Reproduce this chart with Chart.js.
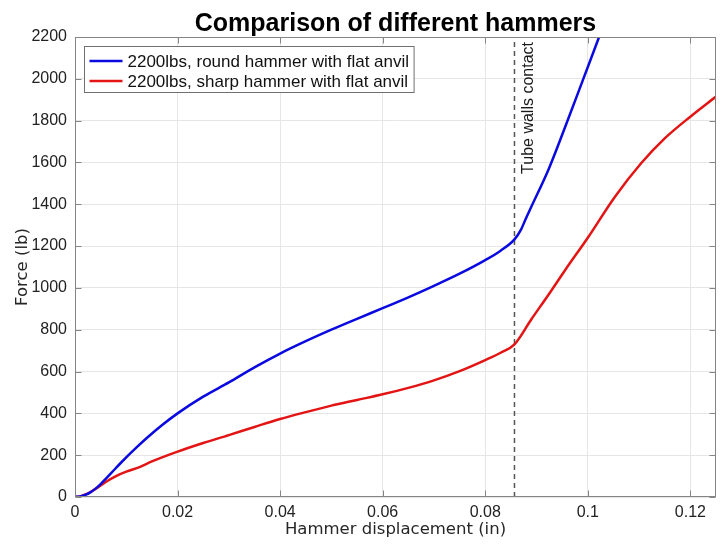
<!DOCTYPE html>
<html>
<head>
<meta charset="utf-8">
<script src="https://cdn.jsdelivr.net/npm/chart.js@4.4.1/dist/chart.umd.min.js"></script>
<style>
  html, body { margin: 0; padding: 0; background: #fff; }
  #wrap { width: 724px; height: 544px; }
</style>
</head>
<body>
<div id="wrap"><canvas id="hammerChart" width="724" height="544"></canvas></div>
<script>
// Values
const roundX = [0, 0.001, 0.002, 0.003, 0.004, 0.005, 0.007, 0.009, 0.012, 0.014, 0.017, 0.02, 0.025, 0.03, 0.035, 0.04, 0.045, 0.05, 0.055, 0.06, 0.065, 0.07, 0.075, 0.08, 0.083, 0.0857, 0.087, 0.0878, 0.089, 0.0923, 0.0956, 0.0988, 0.1022];
const roundF = [0, 3, 10, 22, 40, 62, 113, 165, 237, 282, 344, 400, 480, 548, 620, 686, 745, 800, 852, 903, 955, 1010, 1068, 1133, 1178, 1232, 1280, 1325, 1389, 1564, 1771, 1978, 2200];

const sharpX = [0, 0.001, 0.002, 0.003, 0.004, 0.006, 0.008, 0.01, 0.0126, 0.015, 0.02, 0.025, 0.03, 0.035, 0.04, 0.045, 0.05, 0.055, 0.06, 0.065, 0.07, 0.075, 0.08, 0.083, 0.0857, 0.089, 0.0923, 0.0956, 0.1, 0.1053, 0.1104, 0.115, 0.12, 0.125];
const sharpF = [0, 3, 12, 24, 38, 72, 100, 121, 143, 170, 217, 258, 296, 335, 373, 406, 437, 464, 491, 522, 558, 602, 655, 690, 730, 850, 966, 1086, 1240, 1436, 1596, 1715, 1819, 1915];

const contactX = 0.0857;
const contactF = [0, 2200];

const xTicks = [0, 0.02, 0.04, 0.06, 0.08, 0.1, 0.12];
const yTicks = [0, 200, 400, 600, 800, 1000, 1200, 1400, 1600, 1800, 2000, 2200];

const toPoints = (xs, ys) => xs.map((x, i) => ({ x: x, y: ys[i] }));

const sans = '"Liberation Sans", Arial, Helvetica, sans-serif';
const wide = '"DejaVu Sans", Verdana, sans-serif';
const axisGray = '#858585';

Chart.defaults.font.family = sans;
Chart.defaults.color = '#262626';

// box, inward ticks, rotated note and the framed legend
const matlabLook = {
  id: 'matlabLook',
  afterDraw(chart) {
    const { ctx, chartArea: a, scales: { x, y } } = chart;
    const L = Math.round(a.left) + 0.5, R = Math.round(a.right) - 0.5;
    const T = Math.round(a.top) + 0.5, B = Math.round(a.bottom) - 0.5;
    ctx.save();
    ctx.strokeStyle = axisGray;
    ctx.lineWidth = 1;
    ctx.beginPath();
    x.ticks.forEach(t => {
      const px = Math.round(x.getPixelForValue(t.value)) + 0.5;
      ctx.moveTo(px, B); ctx.lineTo(px, B - 6);
      ctx.moveTo(px, T); ctx.lineTo(px, T + 6);
    });
    y.ticks.forEach(t => {
      const py = Math.round(y.getPixelForValue(t.value)) + 0.5;
      ctx.moveTo(L, py); ctx.lineTo(L + 6, py);
      ctx.moveTo(R, py); ctx.lineTo(R - 6, py);
    });
    ctx.stroke();
    ctx.strokeRect(L, T, R - L, B - T);

    // note next to the contact line
    const cx = x.getPixelForValue(contactX);
    ctx.save();
    ctx.translate(cx + 19, a.top + 5);
    ctx.rotate(-Math.PI / 2);
    ctx.fillStyle = '#1a1a1a';
    ctx.font = '16px ' + sans;
    ctx.textAlign = 'right';
    ctx.textBaseline = 'alphabetic';
    ctx.fillText('Tube walls contact', 0, 0);
    ctx.restore();

    // legend in the upper left corner
    const items = chart.data.datasets.slice(0, 2);
    ctx.font = '17px ' + sans;
    const textW = Math.max(...items.map(d => ctx.measureText(d.label).width));
    const lx = Math.round(a.left) + 9.5, ly = Math.round(a.top) + 9.5;
    const w = 43 + textW + 5, h = 46;
    ctx.fillStyle = '#fff';
    ctx.fillRect(lx, ly, w, h);
    ctx.strokeStyle = '#707070';
    ctx.strokeRect(lx, ly, w, h);
    items.forEach((d, i) => {
      const cy = ly + 14.5 + i * 20;
      ctx.strokeStyle = d.borderColor;
      ctx.lineWidth = 2.5;
      ctx.beginPath();
      ctx.moveTo(lx + 5, cy); ctx.lineTo(lx + 38, cy);
      ctx.stroke();
      ctx.fillStyle = '#111';
      ctx.textBaseline = 'middle';
      ctx.textAlign = 'left';
      ctx.fillText(d.label, lx + 43, cy + 1);
    });
    ctx.restore();
  }
};

const ctx = document.getElementById('hammerChart').getContext('2d');
const hammerChart = new Chart(ctx, {
  type: 'line',
  data: {
    datasets: [{
      label: '2200lbs, round hammer with flat anvil',
      data: toPoints(roundX, roundF),
      borderColor: '#0a0ae0',
      backgroundColor: '#0a0ae0',
      borderWidth: 2.5,
      pointRadius: 0,
      cubicInterpolationMode: 'monotone'
    }, {
      label: '2200lbs, sharp hammer with flat anvil',
      data: toPoints(sharpX, sharpF),
      borderColor: '#e31414',
      backgroundColor: '#e31414',
      borderWidth: 2.5,
      pointRadius: 0,
      cubicInterpolationMode: 'monotone'
    }, {
      label: 'Tube walls contact',
      data: contactF.map(f => ({ x: contactX, y: f })),
      borderColor: '#555',
      borderWidth: 1.5,
      borderDash: [5, 4],
      pointRadius: 0
    }]
  },
  options: {
    responsive: false,
    animation: false,
    devicePixelRatio: 1,
    layout: { padding: { left: 0, right: 8, top: 0, bottom: 0 } },
    plugins: {
      legend: { display: false },
      tooltip: { enabled: false },
      title: {
        display: true,
        fullSize: false,
        text: 'Comparison of different hammers',
        color: '#000',
        font: { family: sans, size: 25, weight: 'bold', lineHeight: 1 },
        padding: { top: 12, bottom: 0 }
      }
    },
    scales: {
      x: {
        type: 'linear',
        min: 0,
        max: 0.125,
        afterBuildTicks: s => { s.ticks = xTicks.map(v => ({ value: v })); },
        afterFit: s => { s.height = 47; },
        grid: { color: '#e6e6e6', drawTicks: false },
        border: { display: false },
        ticks: { padding: 6, font: { size: 16 }, color: '#222', callback: v => String(v) },
        title: {
          display: true,
          text: 'Hammer displacement (in)',
          font: { family: wide, size: 16.5 },
          color: '#262626',
          padding: { top: 0, bottom: 4 }
        }
      },
      y: {
        min: 0,
        max: 2200,
        afterBuildTicks: s => { s.ticks = yTicks.map(v => ({ value: v })); },
        afterFit: s => { s.width = 75; },
        grid: { color: '#e6e6e6', drawTicks: false },
        border: { display: false },
        ticks: { padding: 8, font: { size: 16 }, color: '#222', callback: v => String(v) },
        title: {
          display: true,
          text: 'Force (lb)',
          font: { family: wide, size: 16.5 },
          color: '#262626',
          padding: { top: 13, bottom: 0 }
        }
      }
    }
  },
  plugins: [matlabLook]
});
</script>
</body>
</html>
